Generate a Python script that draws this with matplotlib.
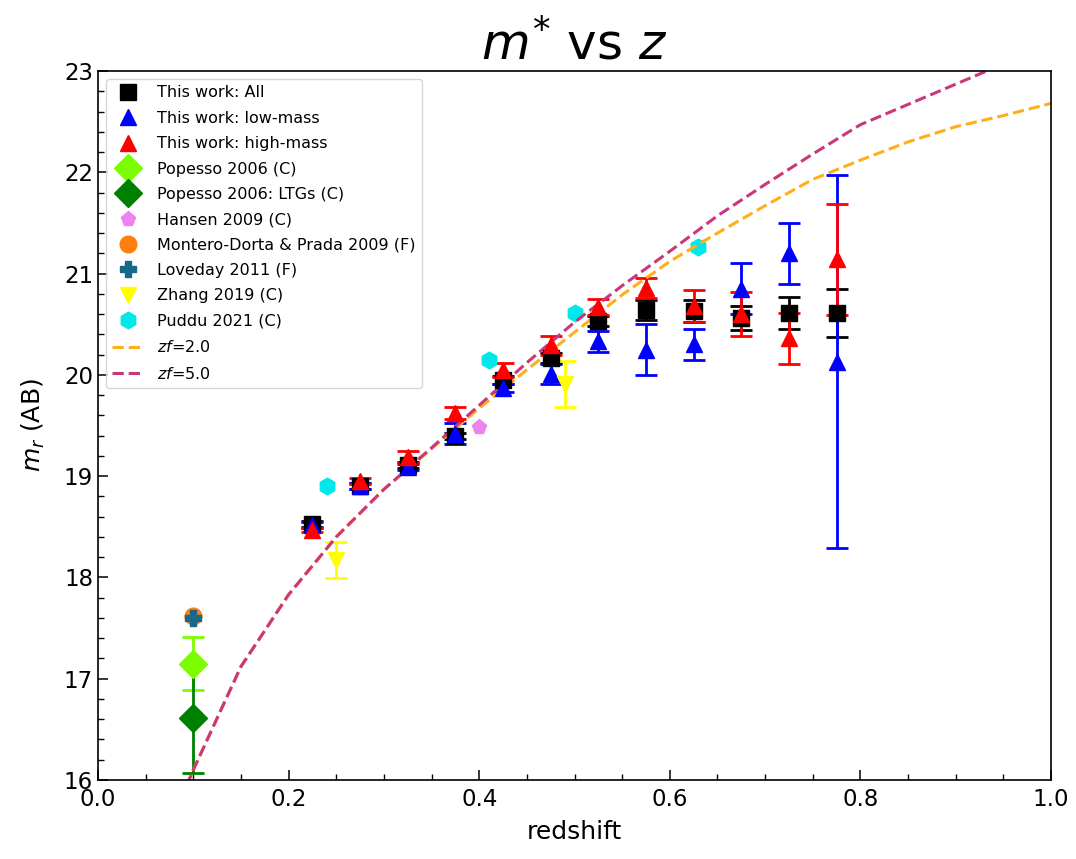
import matplotlib
matplotlib.use("Agg")
import matplotlib.pyplot as plt
from matplotlib.ticker import MultipleLocator

# ---- This work ----
z_tw = [0.225, 0.275, 0.325, 0.375, 0.425, 0.475, 0.525, 0.575, 0.625, 0.675, 0.725, 0.775]
m_all = [18.53, 18.90, 19.11, 19.40, 19.95, 20.17, 20.53, 20.64, 20.63, 20.56, 20.61, 20.61]
e_all = [0.03, 0.03, 0.03, 0.03, 0.04, 0.05, 0.05, 0.10, 0.11, 0.12, 0.16, 0.24]
m_low = [18.52, 18.90, 19.09, 19.42, 19.87, 20.01, 20.33, 20.25, 20.30, 20.85, 21.20, 20.13]
e_low = [0.03, 0.03, 0.03, 0.10, 0.04, 0.10, 0.10, 0.25, 0.15, 0.25, 0.30, 1.84]
m_high = [18.47, 18.95, 19.19, 19.62, 20.05, 20.29, 20.67, 20.86, 20.68, 20.60, 20.36, 21.14]
e_high = [0.02, 0.03, 0.06, 0.06, 0.07, 0.09, 0.08, 0.10, 0.16, 0.22, 0.25, 0.55]

# ---- Literature ----
z_pop = [0.1]; m_pop = [17.15]; e_pop = [0.26]
z_pop_ltg = [0.1]; m_pop_ltg = [16.61]; e_pop_ltg = [0.54]
z_han = [0.40]; m_han = [19.49]
z_mdp = [0.1]; m_mdp = [17.62]
z_lov = [0.1]; m_lov = [17.60]
z_zha = [0.25, 0.49]; m_zha = [18.17, 19.91]; e_zha = [0.18, 0.23]
z_pud = [0.24, 0.41, 0.50, 0.63]; m_pud = [18.90, 20.15, 20.61, 21.26]

# ---- Models ----
z_mod = [0.05, 0.10, 0.15, 0.20, 0.25, 0.30, 0.35, 0.40, 0.45, 0.50, 0.55,
         0.60, 0.65, 0.70, 0.75, 0.80, 0.85, 0.90, 0.95, 1.00]
m_zf2 = [15.0, 16.10, 17.12, 17.83, 18.40, 18.87, 19.27, 19.67, 20.05, 20.42, 20.79,
         21.12, 21.40, 21.67, 21.93, 22.12, 22.30, 22.45, 22.56, 22.68]
m_zf5 = [15.0, 16.10, 17.12, 17.83, 18.40, 18.87, 19.28, 19.70, 20.12, 20.52, 20.88,
         21.22, 21.57, 21.88, 22.18, 22.47, 22.67, 22.87, 23.07, 23.27]

fig = plt.figure(figsize=(10.76, 8.59), dpi=100)
ax = fig.add_axes([98/1076, 1-780/859, (1051-98)/1076, (780-71)/859])

ebk = dict(capsize=8, elinewidth=2, capthick=2, linestyle='none')
handles = []
h = ax.errorbar(z_tw, m_all, yerr=e_all, fmt='s', color='black', ms=12, **ebk)
h[0].set_label('This work: All'); handles.append(h[0])
h = ax.errorbar(z_tw, m_low, yerr=e_low, fmt='^', color='blue', ms=12, **ebk)
h[0].set_label('This work: low-mass'); handles.append(h[0])
h = ax.errorbar(z_tw, m_high, yerr=e_high, fmt='^', color='red', ms=12, **ebk)
h[0].set_label('This work: high-mass'); handles.append(h[0])
h = ax.errorbar(z_pop, m_pop, yerr=e_pop, fmt='D', color='lawngreen', ms=14, **ebk)
h[0].set_label('Popesso 2006 (C)'); handles.append(h[0])
h = ax.errorbar(z_pop_ltg, m_pop_ltg, yerr=e_pop_ltg, fmt='D', color='green', ms=14, **ebk)
h[0].set_label('Popesso 2006: LTGs (C)'); handles.append(h[0])
l, = ax.plot(z_han, m_han, 'p', color='violet', ms=11, linestyle='none', label='Hansen 2009 (C)')
handles.append(l)
l, = ax.plot(z_mdp, m_mdp, 'o', color='#ff7f0e', ms=12, linestyle='none',
             label='Montero-Dorta & Prada 2009 (F)')
handles.append(l)
l, = ax.plot(z_lov, m_lov, 'P', color='#17698a', ms=12, linestyle='none', label='Loveday 2011 (F)')
handles.append(l)
h = ax.errorbar(z_zha, m_zha, yerr=e_zha, fmt='v', color='yellow', ms=12, **ebk)
h[0].set_label('Zhang 2019 (C)'); handles.append(h[0])
l, = ax.plot(z_pud, m_pud, 'h', color='#00e8ea', ms=12, linestyle='none', label='Puddu 2021 (C)')
handles.append(l)
l, = ax.plot(z_mod, m_zf2, '--', color='#ffb019', lw=2.2, label='$zf$=2.0')
handles.append(l)
l, = ax.plot(z_mod, m_zf5, '--', color='#c9387a', lw=2.2, label='$zf$=5.0')
handles.append(l)

ax.set_xlim(0.0, 1.0)
ax.set_ylim(16, 23)
ax.xaxis.set_major_locator(MultipleLocator(0.2))
ax.xaxis.set_minor_locator(MultipleLocator(0.05))
ax.yaxis.set_major_locator(MultipleLocator(1))
ax.yaxis.set_minor_locator(MultipleLocator(0.2))
ax.tick_params(which='major', direction='in', length=7, width=1.1, labelsize=16.5)
ax.tick_params(which='minor', direction='in', length=4.5, width=1.0)
ax.tick_params(axis='x', which='major', pad=6)
for s in ax.spines.values():
    s.set_linewidth(1.2)

ax.set_xlabel('redshift', fontsize=18, labelpad=6)
ax.set_ylabel('$m_r$ (AB)', fontsize=18, labelpad=12)
ax.set_title('$m^{*}$ vs $z$', fontsize=36, pad=8)
ax.legend(handles=handles, loc='upper left', fontsize=11.5, numpoints=1, labelspacing=0.65)

fig.savefig('out.png', dpi=100)
